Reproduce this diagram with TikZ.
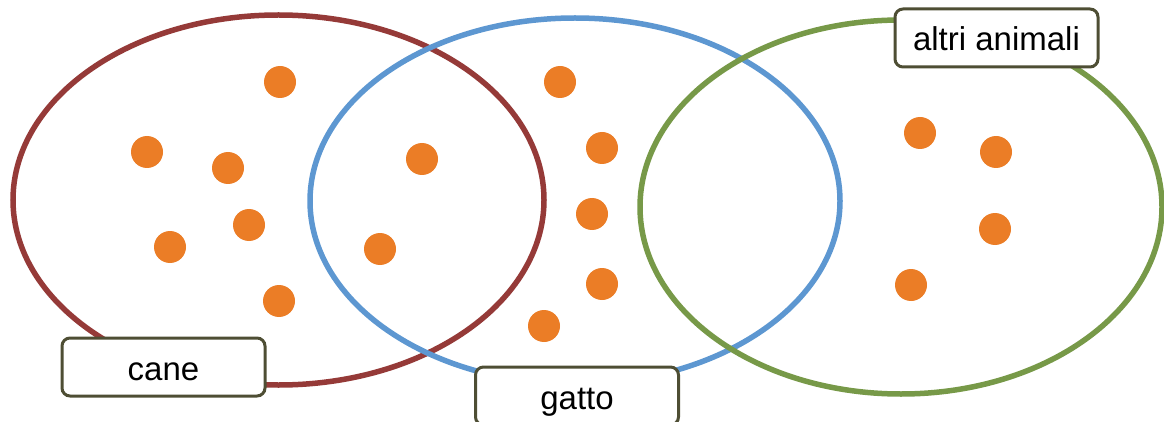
\documentclass[tikz,border=0pt]{standalone}
\usepackage{fontspec}
\setmainfont{Liberation Sans}
\definecolor{setred}{RGB}{149,58,56}
\definecolor{setblue}{RGB}{93,151,209}
\definecolor{setgreen}{RGB}{119,153,72}
\definecolor{dotorange}{RGB}{235,125,38}
\definecolor{boxborder}{RGB}{78,78,52}
\begin{document}
\begin{tikzpicture}[x=1pt,y=-1pt,
  setline/.style={line width=5.5pt},
  dot/.style={circle,fill=dotorange,inner sep=0pt,minimum size=32pt},
  labelbox/.style={draw=boxborder,line width=3pt,fill=white,rounded corners=8pt,
    minimum width=203pt,minimum height=58pt,inner sep=0pt,
    font=\fontsize{33}{38}\selectfont,text height=26pt,text depth=0pt}]
\useasboundingbox (0,0) rectangle (1164,422);
% sets
\draw[setline,setred] (278.5,200) ellipse [x radius=265.5pt, y radius=185pt];
\draw[setline,setblue] (575,201) ellipse [x radius=265pt, y radius=183pt];
\draw[setline,setgreen] (901,207) ellipse [x radius=261pt, y radius=187pt];
% dots
\node[dot] (d1) at (280,82) {};
\node[dot] (d2) at (147,152) {};
\node[dot] (d3) at (228,168) {};
\node[dot] (d4) at (249,225) {};
\node[dot] (d5) at (170,247) {};
\node[dot] (d6) at (279,301) {};
\node[dot] (d7) at (422,159) {};
\node[dot] (d8) at (380,249) {};
\node[dot] (d9) at (560,82) {};
\node[dot] (d10) at (602,148) {};
\node[dot] (d11) at (592,214) {};
\node[dot] (d12) at (602,284) {};
\node[dot] (d13) at (544,326) {};
\node[dot] (d14) at (920,133) {};
\node[dot] (d15) at (996,152) {};
\node[dot] (d16) at (995,229) {};
\node[dot] (d17) at (911,285) {};
% labels
\node[labelbox] (cane) at (163.5,367) {cane};
\node[labelbox] (gatto) at (577,396) {gatto};
\node[labelbox] (altri) at (996.5,38) {altri animali};
\end{tikzpicture}
\end{document}
